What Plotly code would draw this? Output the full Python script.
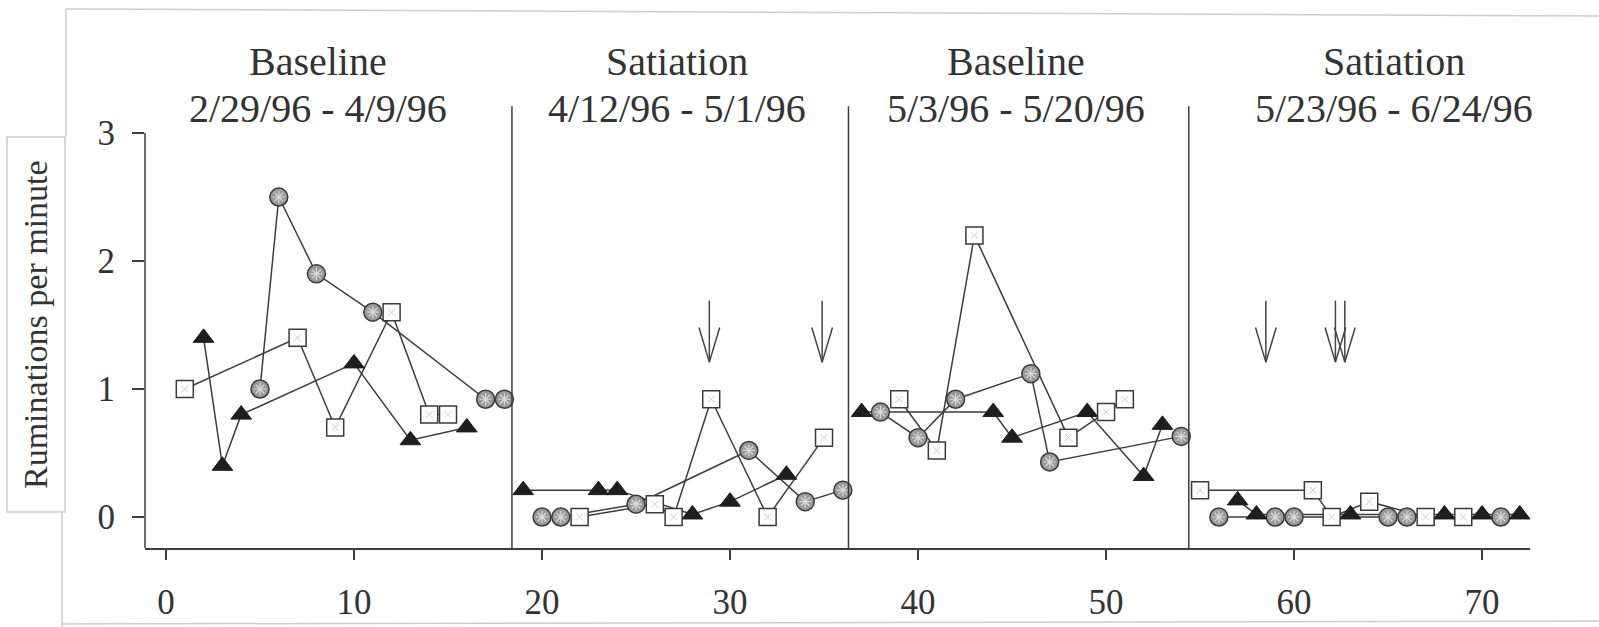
import plotly.graph_objects as go

# Session numbers and ruminations per minute for each series
circle_sessions = [5, 6, 8, 11, 17, 18,
                   20, 21, 25, 31, 34, 36,
                   38, 40, 42, 46, 47, 54,
                   56, 59, 60, 65, 66, 71]
circle_rates = [1.0, 2.5, 1.9, 1.6, 0.92, 0.92,
                0.0, 0.0, 0.1, 0.52, 0.12, 0.21,
                0.82, 0.62, 0.92, 1.12, 0.43, 0.63,
                0.0, 0.0, 0.0, 0.0, 0.0, 0.0]

square_sessions = [1, 7, 9, 12, 14, 15,
                   22, 26, 27, 29, 32, 35,
                   39, 41, 43, 48, 50, 51,
                   55, 61, 62, 64, 67, 69]
square_rates = [1.0, 1.4, 0.7, 1.6, 0.8, 0.8,
                0.0, 0.1, 0.0, 0.92, 0.0, 0.62,
                0.92, 0.52, 2.2, 0.62, 0.82, 0.92,
                0.21, 0.21, 0.0, 0.12, 0.0, 0.0]

triangle_sessions = [2, 3, 4, 10, 13, 16,
                     19, 23, 24, 28, 30, 33,
                     37, 44, 45, 49, 52, 53,
                     57, 58, 63, 68, 70, 72]
triangle_rates = [1.4, 0.4, 0.8, 1.2, 0.6, 0.7,
                  0.21, 0.21, 0.21, 0.02, 0.12, 0.33,
                  0.82, 0.82, 0.62, 0.82, 0.32, 0.72,
                  0.13, 0.02, 0.02, 0.02, 0.02, 0.02]

# Phase change lines and phase headings
phase_breaks = [18.4, 36.3, 54.4]
phase_names = ["Baseline", "Satiation", "Baseline", "Satiation"]
phase_dates = ["2/29/96 - 4/9/96", "4/12/96 - 5/1/96",
               "5/3/96 - 5/20/96", "5/23/96 - 6/24/96"]
phase_label_x = [8.1, 27.2, 45.2, 65.3]

# Sessions marked with a downward arrow
arrow_sessions = [28.9, 34.9, 58.5, 62.2, 62.7]

x_ticks = [0, 10, 20, 30, 40, 50, 60, 70]
y_ticks = [0, 1, 2, 3]

X_RANGE = [-1.117, 72.55]
Y_RANGE = [-0.242, 3.258]
W, H = 1599, 627
M_L, M_R, M_T, M_B = 145, 69, 100, 79
FONT = "Liberation Serif, Times New Roman, serif"
INK = "#333333"
LINE = "#3d3d3d"


def px_to_paper(px, py):
    """Convert a figure pixel position to paper coordinates."""
    pw = W - M_L - M_R
    ph = H - M_T - M_B
    return (px - M_L) / pw, (H - M_B - py) / ph


def split_by_phase(xs, ys):
    """Insert gaps so lines do not cross a phase change line."""
    out_x, out_y = [], []
    prev_phase = None
    for x, y in zip(xs, ys):
        phase = sum(1 for b in phase_breaks if x > b)
        if prev_phase is not None and phase != prev_phase:
            out_x.append(None)
            out_y.append(None)
        out_x.append(x)
        out_y.append(y)
        prev_phase = phase
    return out_x, out_y


fig = go.Figure()

series = [
    (circle_sessions, circle_rates),
    (square_sessions, square_rates),
    (triangle_sessions, triangle_rates),
]

# connecting lines first, so every marker sits on top
for xs, ys in series:
    lx, ly = split_by_phase(xs, ys)
    fig.add_trace(go.Scatter(x=lx, y=ly, mode="lines",
                             line=dict(color=LINE, width=1.5),
                             hoverinfo="skip", showlegend=False))

# circles: shaded with a light pattern
fig.add_trace(go.Scatter(x=circle_sessions, y=circle_rates, mode="markers",
                         marker=dict(symbol="circle", size=18, color="#9a9a9a",
                                     line=dict(color="#3a3a3a", width=1.5)),
                         showlegend=False))
fig.add_trace(go.Scatter(x=circle_sessions, y=circle_rates, mode="markers",
                         marker=dict(symbol="asterisk-open", size=10, color="#dadada",
                                     line=dict(color="#dadada", width=1.2)),
                         hoverinfo="skip", showlegend=False))

# squares: open
fig.add_trace(go.Scatter(x=square_sessions, y=square_rates, mode="markers",
                         marker=dict(symbol="square", size=17, color="white",
                                     line=dict(color="#3a3a3a", width=1.5)),
                         showlegend=False))
fig.add_trace(go.Scatter(x=square_sessions, y=square_rates, mode="markers",
                         marker=dict(symbol="x-thin-open", size=7, color="#cfcfcf",
                                     line=dict(color="#cfcfcf", width=1)),
                         hoverinfo="skip", showlegend=False))

# triangles: solid
fig.add_trace(go.Scatter(x=triangle_sessions, y=triangle_rates, mode="markers",
                         marker=dict(symbol="triangle-up", size=18, color="#1e1e1e",
                                     line=dict(color="#1e1e1e", width=1)),
                         showlegend=False))

# downward arrows (shaft plus open V head)
ARROW_TOP, ARROW_TIP = 1.69, 1.21
HEAD_W, HEAD_H = 0.55, 0.27
ax, ay = [], []
for s in arrow_sessions:
    ax += [s, s, None, s - HEAD_W, s, s + HEAD_W, None]
    ay += [ARROW_TOP, ARROW_TIP, None, ARROW_TIP + HEAD_H, ARROW_TIP,
           ARROW_TIP + HEAD_H, None]
fig.add_trace(go.Scatter(x=ax, y=ay, mode="lines",
                         line=dict(color="#444444", width=1.5),
                         hoverinfo="skip", showlegend=False))

shapes = []
# phase change lines
for b in phase_breaks:
    shapes.append(dict(type="line", xref="x", yref="y", x0=b, x1=b,
                       y0=Y_RANGE[0], y1=3.21,
                       line=dict(color=LINE, width=1.5)))
# y axis line up to the top tick
shapes.append(dict(type="line", xref="paper", yref="y", x0=0, x1=0,
                   y0=Y_RANGE[0], y1=3.0, line=dict(color=LINE, width=1.5)))

# page edges around the figure
EDGE = dict(color="#cdcdcd", width=1.5)
for (p0, p1) in [((66, 9), (1599, 16)), ((66, 9), (66, 136)),
                 ((62, 512), (62, 627)), ((62, 624), (1599, 621))]:
    x0, y0 = px_to_paper(*p0)
    x1, y1 = px_to_paper(*p1)
    shapes.append(dict(type="line", xref="paper", yref="paper",
                       x0=x0, y0=y0, x1=x1, y1=y1, line=EDGE))
bx0, by0 = px_to_paper(7, 137)
bx1, by1 = px_to_paper(65, 512)
shapes.append(dict(type="rect", xref="paper", yref="paper",
                   x0=bx0, y0=by0, x1=bx1, y1=by1, line=EDGE))

# phase headings: name above, date range below
annotations = []
for name, dates, lx in zip(phase_names, phase_dates, phase_label_x):
    _, ny = px_to_paper(0, 62)
    _, dy = px_to_paper(0, 108)
    annotations.append(dict(x=lx, y=ny, xref="x", yref="paper",
                            text=name, showarrow=False,
                            xanchor="center", yanchor="middle",
                            font=dict(family=FONT, size=40, color=INK)))
    annotations.append(dict(x=lx, y=dy, xref="x", yref="paper",
                            text=dates, showarrow=False,
                            xanchor="center", yanchor="middle",
                            font=dict(family=FONT, size=40, color=INK)))

tx, ty = px_to_paper(35, 325)
annotations.append(dict(x=tx, y=ty, xref="paper", yref="paper",
                        text="Ruminations per minute", textangle=-90,
                        showarrow=False, xanchor="center", yanchor="middle",
                        font=dict(family=FONT, size=34, color=INK)))

fig.update_layout(
    width=W, height=H,
    margin=dict(l=M_L, r=M_R, t=M_T, b=M_B, pad=0, autoexpand=False),
    paper_bgcolor="white", plot_bgcolor="white",
    shapes=shapes, annotations=annotations,
    font=dict(family=FONT, color=INK),
)
fig.update_xaxes(range=X_RANGE, tickvals=x_ticks, ticktext=[str(t) for t in x_ticks],
                 ticks="outside", ticklen=10, tickwidth=1.5, tickcolor=LINE,
                 showline=True, linecolor=LINE, linewidth=1.5, automargin=False,
                 showgrid=False, zeroline=False, ticklabelstandoff=12,
                 tickfont=dict(family=FONT, size=35, color=INK))
fig.update_yaxes(range=Y_RANGE, tickvals=y_ticks, ticktext=[str(t) for t in y_ticks],
                 ticks="outside", ticklen=12, tickwidth=1.5, tickcolor=LINE,
                 showline=False, showgrid=False, zeroline=False, automargin=False,
                 ticklabelstandoff=10,
                 tickfont=dict(family=FONT, size=35, color=INK))

fig.write_html("out.html")
